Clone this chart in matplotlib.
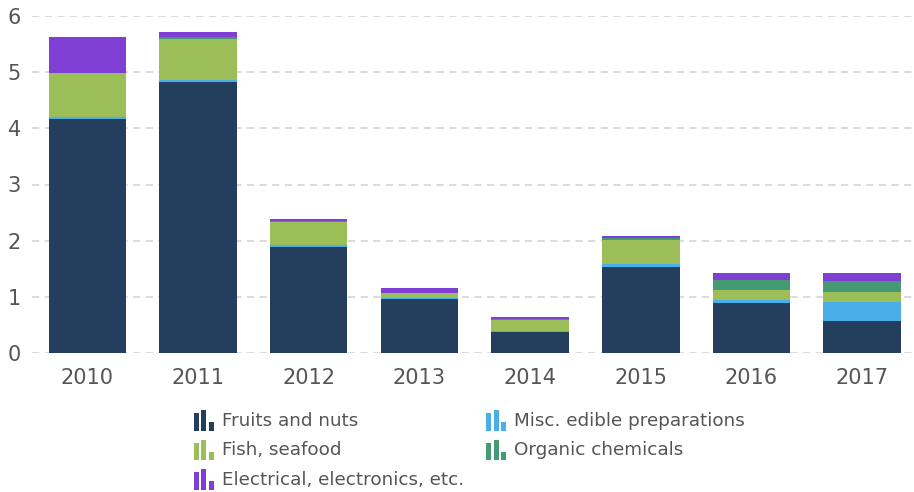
import matplotlib.pyplot as plt
import numpy as np
from matplotlib.legend_handler import HandlerBase
from matplotlib.patches import Rectangle

years = ['2010', '2011', '2012', '2013', '2014', '2015', '2016', '2017']
fruits = [4.17, 4.83, 1.88, 0.96, 0.37, 1.53, 0.89, 0.57]
misc = [0.03, 0.03, 0.04, 0.02, 0.02, 0.06, 0.05, 0.34]
fish = [0.78, 0.73, 0.42, 0.08, 0.20, 0.43, 0.18, 0.18]
organic = [0.00, 0.04, 0.01, 0.015, 0.01, 0.02, 0.18, 0.19]
electrical = [0.65, 0.09, 0.03, 0.075, 0.035, 0.04, 0.12, 0.14]

series = [
    ('Fruits and nuts', fruits, '#243f5e'),
    ('Misc. edible preparations', misc, '#4aaee8'),
    ('Fish, seafood', fish, '#9bbe59'),
    ('Organic chemicals', organic, '#459a74'),
    ('Electrical, electronics, etc.', electrical, '#803fd4'),
]


class BarIcon(HandlerBase):
    # small three-bar glyph like the original legend icon
    def create_artists(self, legend, orig_handle, xdescent, ydescent,
                       width, height, fontsize, trans):
        col = orig_handle.get_facecolor()
        w = width / 4.0
        arts = []
        for k, h in enumerate([0.85, 1.0, 0.4]):
            x = -xdescent + k * (w * 1.5)
            r = Rectangle((x, -ydescent - 2), w, (height + 3) * h,
                          facecolor=col, edgecolor='none', transform=trans)
            arts.append(r)
        return arts


fig = plt.figure(figsize=(9.14, 4.92), dpi=100)
ax = fig.add_axes([32 / 914, 1 - 353 / 492, 880 / 914, 337 / 492])

x = np.arange(len(years))
bottom = np.zeros(len(years))
handles = {}
for name, vals, col in series:
    ax.bar(x, vals, 0.7, bottom=bottom, color=col, label=name, zorder=3)
    handles[name] = Rectangle((0, 0), 1, 1, facecolor=col)
    bottom += np.array(vals)

ax.set_ylim(0, 6)
ax.set_xlim(-0.5, 7.45)
ax.set_yticks(range(0, 7))
ax.set_xticks(x)
ax.set_xticklabels(years)
ax.tick_params(length=0, labelsize=15, colors='#555555')
ax.tick_params(axis='x', pad=11)
ax.tick_params(axis='y', pad=8)
ax.yaxis.grid(True, linestyle=(0, (4, 3)), color='#d9d9d9', linewidth=1.3, zorder=0)
for s in ax.spines.values():
    s.set_visible(False)

order = ['Fruits and nuts', 'Fish, seafood', 'Electrical, electronics, etc.',
         'Misc. edible preparations', 'Organic chemicals']
fig.legend([handles[n] for n in order], order, ncol=2, frameon=False,
           loc='upper left', bbox_to_anchor=(177 / 914, 1 - 395 / 492),
           fontsize=13.2, labelcolor='#555555', handlelength=1.1,
           handleheight=1.0, handletextpad=0.45, columnspacing=1.2,
           labelspacing=0.6,
           handler_map={Rectangle: BarIcon()})

plt.savefig('out.png', dpi=100)
